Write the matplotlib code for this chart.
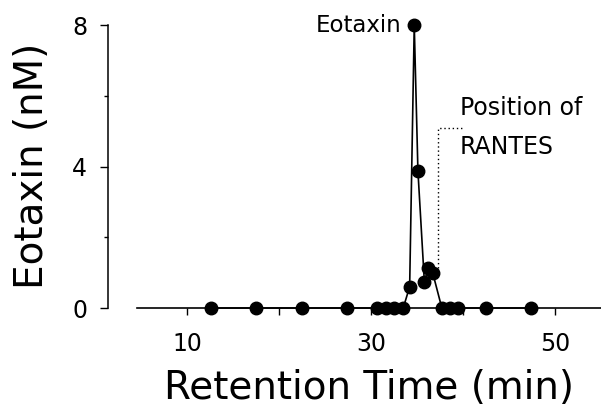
import matplotlib
matplotlib.use("Agg")
import matplotlib.pyplot as plt

# datos
tiempo = [12.6, 17.5, 22.5, 27.4, 30.65, 31.6, 32.5, 33.5, 34.2, 34.7,
          35.1, 35.8, 36.2, 36.7, 37.7, 38.6, 39.5, 42.5, 47.4]
eotaxina = [0, 0, 0, 0, 0, 0, 0, 0, 0.6, 8.0,
            3.87, 0.74, 1.12, 1.0, 0, 0, 0, 0, 0]

# posicion de RANTES (linea punteada)
rantes_x = [37.3, 37.3, 40.0]
rantes_y = [1.13, 5.1, 5.1]

plt.rcParams['font.family'] = ['DejaVu Sans']

fig = plt.figure(figsize=(6.01, 4.07), dpi=100)
ax = fig.add_axes([0.1797, 0.2432, 0.8203, 0.6953])

ax.plot(tiempo, eotaxina, color='black', lw=1.2, marker='o', ms=9,
        clip_on=False, zorder=3)
ax.plot(rantes_x, rantes_y, color='black', lw=1.0, ls=(0, (1, 2)))

ax.set_xlim(1.41, 55.0)
ax.set_ylim(0, 8)

for s in ['top', 'right']:
    ax.spines[s].set_visible(False)
ax.spines['bottom'].set_bounds(4.57, 55.0)
ax.spines['bottom'].set_linewidth(1.2)
ax.spines['left'].set_linewidth(1.1)

ax.set_xticks([10, 30, 50])
ax.set_xticks([20, 40], minor=True)
ax.tick_params(axis='x', which='both', direction='out', length=5, width=1,
               pad=12, labelsize=17)
ax.set_yticks([0, 4, 8])
ax.set_yticks([2, 6], minor=True)
ax.tick_params(axis='y', which='major', direction='out', length=6, width=1,
               pad=9, labelsize=17)
ax.tick_params(axis='y', which='minor', direction='out', length=3, width=1)

ax.text(33.26, 8.0, "Eotaxin", ha='right', va='center', fontsize=16.5)
ax.text(39.67, 5.65, "Position of", ha='left', va='center', fontsize=17)
ax.text(39.67, 4.55, "RANTES", ha='left', va='center', fontsize=17)

fig.text(0.053, 0.592, "Eotaxin (nM)", rotation=90, ha='center', va='center',
         fontsize=28)
fig.text(0.614, 0.047, "Retention Time (min)", ha='center', va='center',
         fontsize=28)

fig.savefig("out.png", dpi=100)
